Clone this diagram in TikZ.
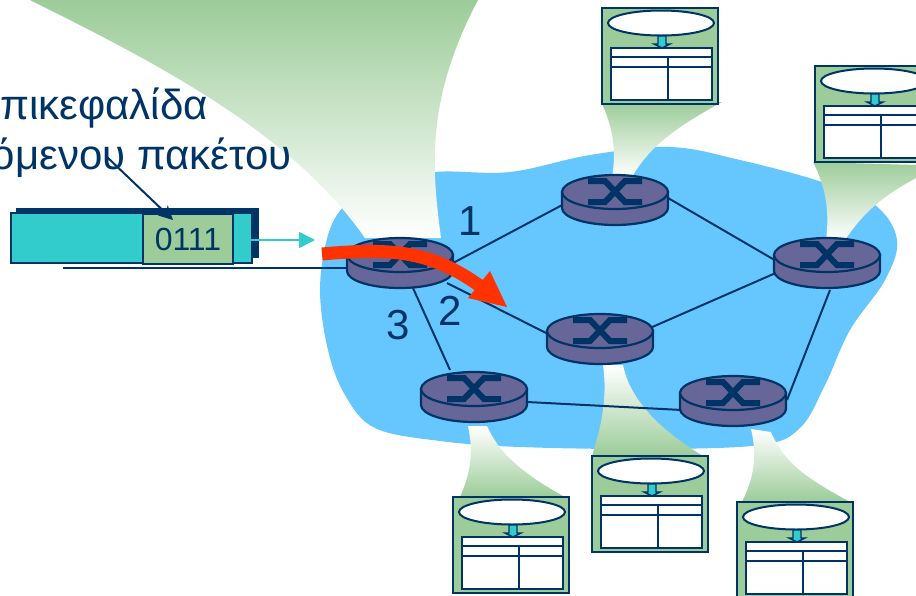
\documentclass[tikz,border=0pt]{standalone}
\usepackage{fontspec}
\setmainfont{Liberation Sans}
\usetikzlibrary{shapes.geometric,arrows.meta}
\definecolor{navy}{HTML}{003366}
\definecolor{leaf}{HTML}{9CCC99}
\definecolor{teal2}{HTML}{33CCCC}
\definecolor{sky}{HTML}{66C7FF}
\definecolor{rout}{HTML}{666699}
\definecolor{hot}{HTML}{FF3300}
\tikzset{
  routeranchor/.style={ellipse,minimum width=106pt,minimum height=50pt,inner sep=0pt,outer sep=0pt},
  link/.style={draw=navy,line width=2pt},
  beam/.style={top color=leaf,bottom color=white,draw=none},
  beamup/.style={top color=white,bottom color=leaf,draw=none},
  tablebox/.style={rectangle,draw=navy,line width=2.6pt,fill=leaf,minimum width=116pt,minimum height=96pt,inner sep=0pt},
  tline/.style={draw=navy,line width=2pt},
  biglabel/.style={text=navy,font=\fontsize{42pt}{44pt}\selectfont,inner sep=0pt},
  headtext/.style={text=navy,font=\fontsize{42pt}{46pt}\selectfont,inner sep=0pt,anchor=base east},
}
\newcommand{\tablepanel}[3]{%
  \node[tablebox] (#1) at (#2+58,#3+48) {};
  \begin{scope}[shift={(#2,#3)}]
    \draw[navy,line width=2pt,fill=white] (59,15) ellipse [x radius=53,y radius=12.5];
    \draw[navy,line width=1.4pt,fill=teal2] (56,28) -- (64,28) -- (64,36) -- (68,36) -- (60,40) -- (52,36) -- (56,36) -- cycle;
    \draw[tline,fill=white] (9,40) rectangle (110,92);
    \draw[tline] (9,49) -- (110,49) (9,59) -- (110,59) (66,49) -- (66,92);
  \end{scope}}
\newcommand{\routerdraw}[1]{%
  \begin{scope}[shift={(#1.center)}]
    \draw[navy,line width=2.2pt,fill=rout] (-53,-8) -- (-53,8) arc[start angle=180,end angle=0,x radius=53,y radius=17] -- (53,-8) -- cycle;
    \draw[navy,line width=2.2pt,fill=rout] (0,-8) ellipse [x radius=53,y radius=17];
    \draw[navy,line width=6pt] (-27,-19) -- (-10,-19) -- (10,2) -- (27,2) (-27,2) -- (-10,2) -- (10,-19) -- (27,-19);
  \end{scope}}
\begin{document}
\begin{tikzpicture}[x=1pt,y=-1pt]
\useasboundingbox (0,0) rectangle (916,595);
% network cloud
\fill[sky] plot[smooth cycle,tension=0.6] coordinates {(320,290) (328,235) (345,205) (375,185) (435,172) (510,172) (590,155) (670,147) (740,160) (822,182) (875,205) (897,240) (885,280) (850,330) (825,385) (800,428) (760,445) (650,449) (520,447) (440,441) (375,428) (345,395) (328,350)};
% beams
\shade[beam] (30,0) .. controls (150,60) and (290,130) .. (365,238) -- (441,238) .. controls (432,170) and (425,100) .. (478,0) -- cycle;
\shade[beam] (602,104) -- (722,102) .. controls (680,125) and (650,145) .. (632,177) -- (612,177) .. controls (617,150) and (612,125) .. (602,104) -- cycle;
\shade[beam] (813,162) -- (916,165) -- (916,178) .. controls (885,195) and (865,210) .. (845,240) -- (826,240) .. controls (830,210) and (825,185) .. (813,162) -- cycle;
\shade[beamup] (468,426) -- (487,426) .. controls (500,455) and (525,475) .. (565,497) -- (460,497) .. controls (472,470) and (473,450) .. (468,426) -- cycle;
\shade[beamup] (603,365) -- (623,365) .. controls (630,400) and (660,430) .. (703,456) -- (592,456) .. controls (600,430) and (608,400) .. (603,365) -- cycle;
\shade[beamup] (751,429) -- (771,432) .. controls (785,465) and (810,480) .. (850,502) -- (742,502) .. controls (755,475) and (757,455) .. (751,429) -- cycle;
% routers (anchors)
\node[routeranchor] (r1) at (400,263) {};
\node[routeranchor] (r2) at (615,200) {};
\node[routeranchor] (r3) at (827,263) {};
\node[routeranchor] (r4) at (600,339) {};
\node[routeranchor] (r5) at (474,397) {};
\node[routeranchor] (r6) at (733,401) {};
% links
\draw[link] ([shift={(53,0)}]r1.center) -- ([shift={(-49,3)}]r2.center);
\draw[link] ([shift={(47,20)}]r1.center) -- ([shift={(-50,-4)}]r4.center);
\draw[link] ([shift={(13,25)}]r1.center) -- ([shift={(-24,-27)}]r5.center);
\draw[link] ([shift={(53,-2)}]r2.center) -- ([shift={(-49,-1)}]r3.center);
\draw[link] ([shift={(50,-11)}]r4.center) -- ([shift={(-49,9)}]r3.center);
\draw[link] ([shift={(53,5)}]r5.center) -- ([shift={(-51,9)}]r6.center);
\draw[link] ([shift={(3,27)}]r3.center) -- ([shift={(54,-1)}]r6.center);
% packet
\coordinate (lineleft) at (63,268);
\draw[navy,line width=2pt] (lineleft) -- (r1.west |- lineleft);
\fill[navy] (16,208) rectangle (259,258);
\draw[navy,line width=1.4pt,fill=teal2] (11,213) rectangle (252,263);
\node[rectangle,draw=navy,line width=2pt,fill=leaf,minimum width=90pt,minimum height=50pt,inner sep=0pt,text=navy,font=\fontsize{32pt}{33pt}\selectfont] (hdr) at (188,239) {0111};
\coordinate (teal-start) at (251,240);
\coordinate (teal-end) at (315,240);
\draw[teal2,line width=1.8pt,-{Triangle[length=16pt,width=16pt]}] (teal-start) -- (teal-end);
% routers
\foreach \n in {r1,r2,r3,r4,r5,r6}{\routerdraw{\n}}
% tables
\tablepanel{ta}{602}{8}
\tablepanel{tb}{815}{66}
\tablepanel{tc}{453}{497}
\tablepanel{td}{592}{456}
\tablepanel{te}{737}{502}
% heading text
\node[headtext] (h1) at (208,119) {πικεφαλίδα};
\node[headtext] (h2) at (292,169) {όμενου πακέτου};
\coordinate (h2foot) at (107,157);
\coordinate (hdrtip) at (173,220);
\draw[navy,line width=2pt,-{Stealth[length=14pt,width=14pt]}] (h2foot) -- (hdrtip);
% numbers
\node[biglabel] (n1) at (470,221) {1};
\node[biglabel] (n2) at (450,311) {2};
\node[biglabel] (n3) at (398,325) {3};
% red arrow
\draw[hot,line width=13pt] (322,254) .. controls (390,248) and (430,250) .. (480,286);
\fill[hot] (507,307) -- (490,271) -- (468,298) -- cycle;
\end{tikzpicture}
\end{document}
